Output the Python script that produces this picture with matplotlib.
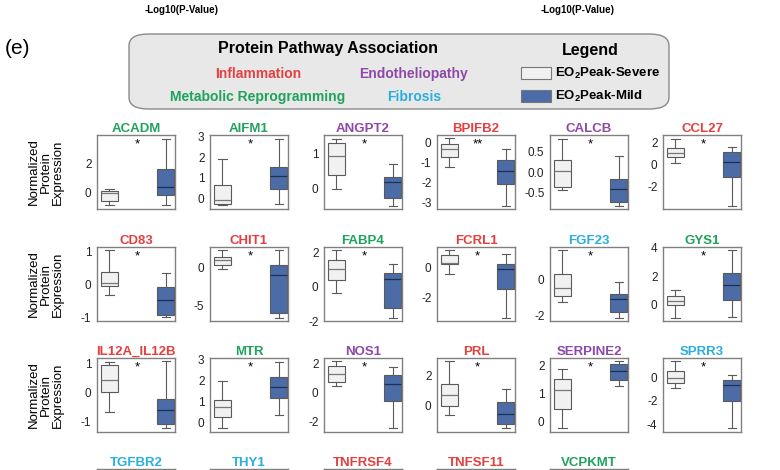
import matplotlib
matplotlib.use("Agg")
import matplotlib.pyplot as plt
from matplotlib.patches import FancyBboxPatch, Rectangle

plt.rcParams["font.family"] = ["Liberation Sans", "DejaVu Sans"]
plt.rcParams["mathtext.fontset"] = "custom"
plt.rcParams["mathtext.rm"] = "Liberation Sans"
plt.rcParams["mathtext.bf"] = "Liberation Sans:bold"
plt.rcParams["axes.unicode_minus"] = False

pathway_colours = {"Inflammation": "#e5403f",
                   "Endotheliopathy": "#8e48a8",
                   "Metabolic Reprogramming": "#1fa35c",
                   "Fibrosis": "#2aaee0"}

genes = ["ACADM", "AIFM1", "ANGPT2", "BPIFB2", "CALCB", "CCL27",
         "CD83", "CHIT1", "FABP4", "FCRL1", "FGF23", "GYS1",
         "IL12A_IL12B", "MTR", "NOS1", "PRL", "SERPINE2", "SPRR3",
         "TGFBR2", "THY1", "TNFRSF4", "TNFSF11", "VCPKMT"]
pathways = ["Metabolic Reprogramming", "Metabolic Reprogramming", "Endotheliopathy",
            "Inflammation", "Endotheliopathy", "Inflammation",
            "Inflammation", "Inflammation", "Metabolic Reprogramming",
            "Inflammation", "Fibrosis", "Metabolic Reprogramming",
            "Inflammation", "Metabolic Reprogramming", "Endotheliopathy",
            "Inflammation", "Endotheliopathy", "Fibrosis",
            "Fibrosis", "Fibrosis", "Inflammation", "Inflammation",
            "Metabolic Reprogramming"]
stars = ["*", "*", "*", "**", "*", "*",
         "*", "*", "*", "*", "*", "*",
         "*", "*", "*", "*", "*", "*"]

# whisker low, Q1, median, Q3, whisker high
severe = [[-0.84, -0.57, -0.05, 0.11, 0.23],
          [-0.27, -0.24, -0.03, 0.68, 1.90],
          [0.00, 0.40, 0.91, 1.28, 1.40],
          [-1.23, -0.75, -0.34, -0.10, 0.20],
          [-0.42, -0.36, 0.04, 0.30, 0.81],
          [0.09, 0.64, 1.06, 1.52, 2.33],
          [-0.30, -0.05, 0.07, 0.38, 1.05],
          [-0.09, 0.35, 1.10, 1.40, 2.32],
          [-0.39, 0.39, 1.03, 1.55, 2.14],
          [-0.40, 0.22, 0.31, 0.86, 1.14],
          [-1.23, -0.90, -0.46, 0.29, 1.61],
          [-0.94, -0.05, 0.23, 0.61, 1.05],
          [-0.69, 0.00, 0.43, 0.94, 1.05],
          [-0.28, 0.27, 0.71, 1.08, 2.00],
          [0.46, 0.75, 1.26, 1.83, 2.17],
          [-0.61, 0.00, 0.70, 1.46, 2.93],
          [-0.25, 0.44, 1.13, 1.50, 1.86],
          [-0.88, -0.52, -0.06, 0.55, 1.32]]
mild = [[-0.84, -0.20, 0.36, 1.59, 3.64],
        [-0.24, 0.48, 1.08, 1.50, 2.85],
        [-0.48, -0.25, 0.19, 0.33, 0.69],
        [-3.15, -2.08, -1.44, -0.90, -0.34],
        [-0.82, -0.73, -0.41, -0.17, 0.38],
        [-3.85, -1.21, 0.18, 1.12, 1.60],
        [-0.99, -0.91, -0.46, -0.08, 0.37],
        [-6.58, -5.92, -0.88, 0.35, 2.32],
        [-1.81, -1.22, 0.43, 0.83, 1.36],
        [-3.32, -1.43, -0.07, 0.26, 0.92],
        [-2.11, -1.82, -1.05, -0.81, -0.13],
        [-0.87, 0.30, 1.36, 2.25, 3.81],
        [-1.24, -1.09, -0.61, -0.23, 1.08],
        [0.35, 1.16, 1.70, 2.17, 2.89],
        [-2.47, -0.62, 0.62, 1.19, 1.78],
        [-1.48, -1.24, -0.54, 0.22, 1.13],
        [1.27, 1.48, 1.80, 2.06, 2.15],
        [-4.28, -2.00, -0.69, -0.28, 0.14]]

ylims = [(-1.14, 3.93), (-0.48, 3.05), (-0.56, 1.51), (-3.30, 0.36), (-0.89, 0.90), (-4.09, 2.67),
         (-1.10, 1.15), (-7.0, 2.76), (-2.0, 2.33), (-3.53, 1.36), (-2.29, 1.80), (-1.17, 4.05),
         (-1.38, 1.19), (-0.47, 3.08), (-2.74, 2.40), (-1.74, 3.15), (-0.39, 2.27), (-4.6, 1.60)]
yticks = [[0, 2], [0, 1, 2, 3], [0, 1], [-3, -2, -1, 0], [-0.5, 0.0, 0.5], [-2, 0, 2],
          [-1, 0, 1], [-5, 0], [-2, 0, 2], [-2, 0], [-2, 0], [0, 2, 4],
          [-1, 0, 1], [0, 1, 2, 3], [-2, 0, 2], [0, 2], [0, 1, 2], [-4, -2, 0]]

W, H = 780, 470
fig = plt.figure(figsize=(W / 100, H / 100), dpi=100)

col_left = [97, 210, 324, 437, 550, 663]
row_top = [135, 247, 358, 469]
ax_w, ax_h = 78, 74

severe_face = "#f1f1f1"
mild_face = "#4b6ca6"
edge = "#5a5a5a"


def add_px_axes(x, top, w, h):
    return fig.add_axes([x / W, 1 - (top + h) / H, w / W, h / H])


for i, gene in enumerate(genes):
    r, c = divmod(i, 6)
    ax = add_px_axes(col_left[c], row_top[r], ax_w, ax_h)
    for s in ax.spines.values():
        s.set_color("#808080")
        s.set_linewidth(1.0)
    ax.set_title(gene, color=pathway_colours[pathways[i]], fontsize=9.5,
                 fontweight="bold", pad=2)
    ax.tick_params(axis="y", length=0, labelsize=8.5, pad=4, colors="#222222")
    if i >= len(severe):
        # last row is cut off by the bottom edge
        ax.set_xticks([])
        ax.set_yticks([])
        continue
    stats = []
    for vals in (severe[i], mild[i]):
        stats.append(dict(whislo=vals[0], q1=vals[1], med=vals[2],
                          q3=vals[3], whishi=vals[4], fliers=[]))
    bp = ax.bxp(stats, positions=[0, 1], widths=0.3, patch_artist=True,
                showfliers=False,
                boxprops=dict(edgecolor=edge, linewidth=0.8),
                whiskerprops=dict(color=edge, linewidth=0.8),
                capprops=dict(color=edge, linewidth=0.8),
                medianprops=dict(linewidth=0.9))
    bp["boxes"][0].set_facecolor(severe_face)
    bp["boxes"][1].set_facecolor(mild_face)
    bp["medians"][0].set_color("#777777")
    bp["medians"][1].set_color("#1c2f55")
    ax.set_xticks([])
    ax.set_xlim(-0.22, 1.16)
    ax.set_ylim(*ylims[i])
    ax.set_yticks(yticks[i])
    ax.text(0.52, 0.95, stars[i], transform=ax.transAxes, ha="center",
            va="top", fontsize=9.5)

# y labels for each row
for r in range(3):
    yc = row_top[r] + ax_h / 2
    fig.text(46 / W, 1 - yc / H, "Normalized\nProtein\nExpression", rotation=90,
             ha="center", va="center", multialignment="center", fontsize=9.5,
             linespacing=1.0)

# top remnants of the previous panel
for xc in (182, 578):
    fig.text(xc / W, 1 - 10 / H, "-Log10(P-Value)", ha="center", va="center",
             fontsize=7, fontweight="bold")

fig.text(17 / W, 1 - 48 / H, "(e)", ha="center", va="center", fontsize=15)

# legend box
box = FancyBboxPatch((129 / W, 1 - 109 / H), 540 / W, 75 / H,
                     boxstyle="round,pad=0,rounding_size=0.025",
                     transform=fig.transFigure, facecolor="#e8e8e8",
                     edgecolor="#8a8a8a", linewidth=1.0)
fig.patches.append(box)

fig.text(328 / W, 1 - 49 / H, "Protein Pathway Association", ha="center",
         va="center", fontsize=11.5, fontweight="bold")
fig.text(590 / W, 1 - 50 / H, "Legend", ha="center", va="center",
         fontsize=11.5, fontweight="bold")
label_pos = {"Inflammation": (258, 74), "Endotheliopathy": (414, 74),
             "Metabolic Reprogramming": (258, 97), "Fibrosis": (414, 97)}
for name, (x, y) in label_pos.items():
    fig.text(x / W, 1 - y / H, name, ha="center", va="center", fontsize=10,
             fontweight="bold", color=pathway_colours[name])

legend_items = [(r"EO$_\mathbf{2}$Peak-Severe", severe_face, 73),
                (r"EO$_\mathbf{2}$Peak-Mild", mild_face, 96)]
for text, face, y in legend_items:
    fig.patches.append(Rectangle((521 / W, 1 - (y + 6) / H), 30 / W, 12 / H,
                                 transform=fig.transFigure, facecolor=face,
                                 edgecolor="#777777", linewidth=0.8))
    fig.text(555 / W, 1 - y / H, text, ha="left", va="center", fontsize=9.5,
             fontweight="bold")

fig.savefig("out.png", dpi=100)
